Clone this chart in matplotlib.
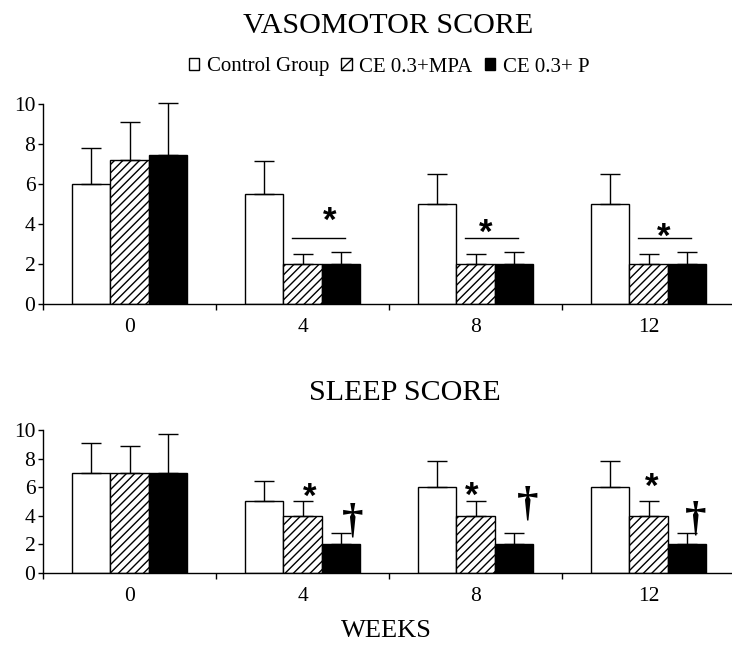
import matplotlib
matplotlib.use('Agg')
import matplotlib.pyplot as plt
from matplotlib.patches import Patch
import numpy as np

# ---------------- data ----------------
weeks = ['0', '4', '8', '12']
groups = ['Control Group', 'CE 0.3+MPA', 'CE 0.3+ P']

vaso_control = [6.0, 5.5, 5.0, 5.0]
vaso_control_err = [1.8, 1.65, 1.5, 1.5]
vaso_mpa = [7.2, 2.0, 2.0, 2.0]
vaso_mpa_err = [1.9, 0.5, 0.5, 0.5]
vaso_p = [7.45, 2.0, 2.0, 2.0]
vaso_p_err = [2.6, 0.62, 0.62, 0.62]

sleep_control = [7.0, 5.0, 6.0, 6.0]
sleep_control_err = [2.1, 1.45, 1.85, 1.85]
sleep_mpa = [7.0, 4.0, 4.0, 4.0]
sleep_mpa_err = [1.85, 1.0, 1.0, 1.0]
sleep_p = [7.0, 2.0, 2.0, 2.0]
sleep_p_err = [2.75, 0.8, 0.8, 0.8]

# significance annotations (week index, x offset, y)
vaso_sig_line_y = [3.3, 3.3, 3.3]
vaso_star = [(1, 0.155, 4.7), (2, 0.06, 4.1), (3, 0.085, 3.9)]
sleep_star = [(1, 0.04, 6.07), (2, -0.02, 6.15), (3, 0.02, 6.73)]
sleep_dagger = [(1, 0.29, 3.57), (2, 0.30, 4.8), (3, 0.275, 3.75)]

# ---------------- style ----------------
plt.rcParams['font.family'] = ['Liberation Serif', 'DejaVu Serif']
plt.rcParams['hatch.linewidth'] = 1.0
SERIF = 'Liberation Serif'

W, H = 732, 648
fig = plt.figure(figsize=(W / 100, H / 100), dpi=100)

bw = 0.221
x = np.arange(len(weeks))
ax_left = 43 / W
ax_width = 692 / W
ax1 = fig.add_axes([ax_left, 1 - 304 / H, ax_width, 200 / H])
ax2 = fig.add_axes([ax_left, 1 - 572.7 / H, ax_width, 142.7 / H])


def draw_panel(ax, ctrl, ctrl_e, mpa, mpa_e, p, p_e):
    specs = [
        (ctrl, ctrl_e, -bw, dict(facecolor='white')),
        (mpa, mpa_e, 0.0, dict(facecolor='white', hatch='////')),
        (p, p_e, bw, dict(facecolor='black')),
    ]
    for vals, errs, off, st in specs:
        ax.bar(x + off, vals, width=bw, edgecolor='black', linewidth=1.0,
               zorder=2, **st)
        ax.errorbar(x + off, vals, yerr=[np.zeros(len(vals)), errs],
                    fmt='none', ecolor='black', elinewidth=1.0,
                    capsize=7, capthick=1.0, zorder=3, clip_on=False)
    ax.set_xlim(-0.5, 3.5)
    ax.set_ylim(0, 10)
    ax.set_yticks([0, 2, 4, 6, 8, 10])
    ax.set_yticklabels(['0', '2', '4', '6', '8', '10'])
    ax.set_xticks([-0.5, 0.5, 1.5, 2.5, 3.5])
    ax.set_xticklabels([])
    ax.set_xticks(x, minor=True)
    ax.set_xticklabels(weeks, minor=True)
    ax.tick_params(axis='x', which='major', direction='out', length=4.5,
                   width=1.0)
    ax.tick_params(axis='x', which='minor', length=0, pad=10, labelsize=15.5)
    ax.tick_params(axis='y', direction='out', length=3.5, width=1.0, pad=2,
                   labelsize=15.5)
    for lab in ax.get_xticklabels(minor=True) + ax.get_yticklabels():
        lab.set_family(SERIF)
    for s in ['top', 'right']:
        ax.spines[s].set_visible(False)
    for s in ['left', 'bottom']:
        ax.spines[s].set_linewidth(1.0)


draw_panel(ax1, vaso_control, vaso_control_err, vaso_mpa, vaso_mpa_err,
           vaso_p, vaso_p_err)
draw_panel(ax2, sleep_control, sleep_control_err, sleep_mpa, sleep_mpa_err,
           sleep_p, sleep_p_err)

# significance markers - vasomotor
for i, yl in zip([1, 2, 3], vaso_sig_line_y):
    ax1.plot([i - 0.06, i + 0.245], [yl, yl], color='black', lw=1.0,
             zorder=3)
for i, dx, yy in vaso_star:
    ax1.annotate('*', xy=(i + dx, yy), xytext=(0, -8),
                 textcoords='offset points', ha='center', va='center',
                 fontsize=25, fontweight='bold', family='Liberation Sans')

# significance markers - sleep
for i, dx, yy in sleep_star:
    ax2.annotate('*', xy=(i + dx, yy), xytext=(0, -8),
                 textcoords='offset points', ha='center', va='center',
                 fontsize=25, fontweight='bold', family='Liberation Sans')
for i, dx, yy in sleep_dagger:
    ax2.text(i + dx, yy, '\u2020', ha='center', va='center', fontsize=31,
             family=SERIF, fontweight='bold')

# titles
fig.text(388 / W, 1 - 33 / H, 'VASOMOTOR SCORE', ha='center', va='baseline',
         fontsize=21.6, family=SERIF)
fig.text(405 / W, 1 - 400 / H, 'SLEEP SCORE', ha='center', va='baseline',
         fontsize=21.6, family=SERIF)
fig.text(386 / W, 1 - 637 / H, 'WEEKS', ha='center', va='baseline',
         fontsize=19, family=SERIF)

# legend
handles = [
    Patch(facecolor='white', edgecolor='black', linewidth=1.0),
    Patch(facecolor='white', edgecolor='black', hatch='///', linewidth=1.0),
    Patch(facecolor='black', edgecolor='black', linewidth=1.0),
]
fig.legend(handles, groups, loc='center', bbox_to_anchor=(389 / W, 1 - 67 / H),
           ncol=3, frameon=False, prop={'family': SERIF, 'size': 15},
           handlelength=0.5, handleheight=0.5, handletextpad=0.35,
           columnspacing=0.6, borderpad=0, borderaxespad=0)

fig.savefig('out.png', dpi=100)
